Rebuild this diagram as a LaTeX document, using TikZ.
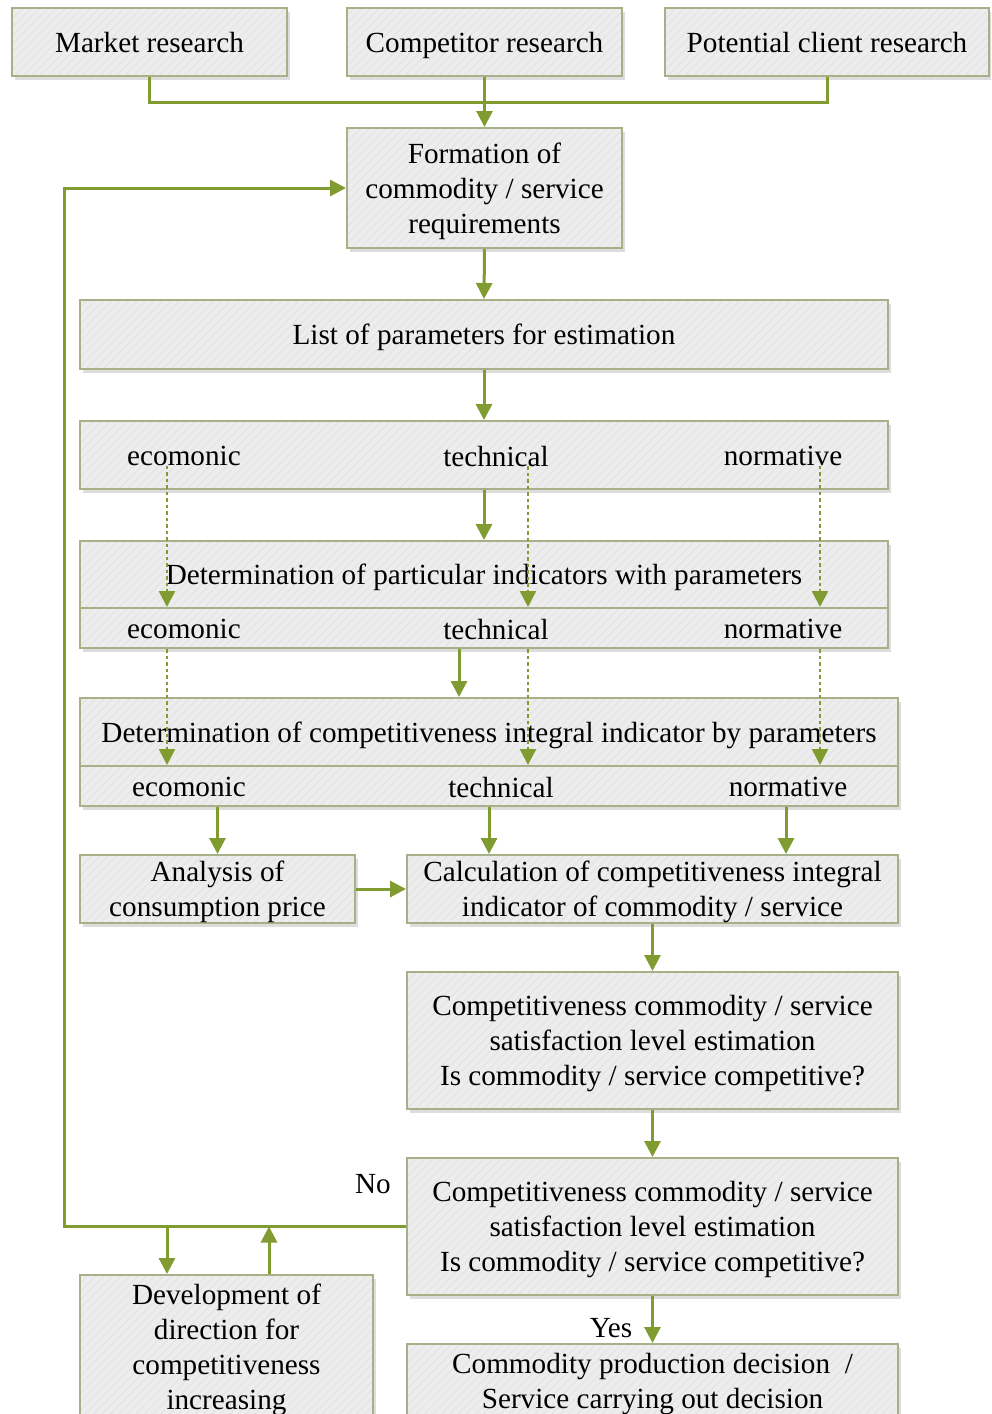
\documentclass[tikz,border=0pt]{standalone}
\usepackage{fontspec}
\setmainfont{Liberation Serif}
\usetikzlibrary{arrows.meta,shadows,patterns.meta,calc}
\definecolor{arrg}{RGB}{128,155,48}
\definecolor{boxb}{RGB}{168,176,138}
\definecolor{boxf}{RGB}{237,237,237}
\definecolor{stripe}{RGB}{228,228,228}
\tikzset{
 box/.style={draw=boxb, line width=2pt, inner sep=2pt, align=center, text depth=0pt,
   drop shadow={shadow xshift=3pt, shadow yshift=-4pt, opacity=0.22, fill=black!60},
   preaction={fill=boxf},
   pattern={Lines[angle=45,distance=6pt,line width=1pt]}, pattern color=stripe},
 arr/.style={draw=arrg, line width=3pt, -{Triangle[width=16pt,length=16pt]}},
 ln/.style={draw=arrg, line width=3pt},
 dotarr/.style={draw=arrg, line width=2.5pt, dash pattern=on 3.5pt off 3pt, -{Triangle[width=16pt,length=16pt]}},
 lbl/.style={inner sep=0pt, text depth=0pt},
}
\begin{document}
\begin{tikzpicture}[x=1pt,y=-1pt,font=\fontsize{29.2}{35}\selectfont]
\useasboundingbox (0,0) rectangle (991,1414);
\clip (0,0) rectangle (991,1414);
% top row
\node[box, minimum width=275, minimum height=68] (mr) at (149.5,42) {Market research};
\node[box, minimum width=275, minimum height=68] (cr) at (484.5,42) {Competitor research};
\node[box, minimum width=324, minimum height=68] (pcr) at (827,42) {Potential client research};
\node[box, minimum width=275, minimum height=120] (form) at (484.5,188) {Formation of\\commodity / service\\requirements};
\node[box, minimum width=808, minimum height=69] (list) at (484,334.5) {List of parameters for estimation};
% category row
\node[box, minimum width=808, minimum height=68] (cat) at (484,455) {};
\node[lbl] (e0) at (184,456) {ecomonic};
\node[lbl] (t0) at (496,456) {technical};
\node[lbl] (n0) at (783,456) {normative};
% determination 1
\node[box, minimum width=808, minimum height=67] (d1t) at (484,574.5) {Determination of particular indicators with parameters};
\node[box, minimum width=808, minimum height=40] (d1b) at (484,628) {};
\node[lbl] (e1) at (184,629) {ecomonic};
\node[lbl] (t1) at (496,629) {technical};
\node[lbl] (n1) at (783,629) {normative};
% determination 2
\node[box, minimum width=818, minimum height=68] (d2t) at (489,732) {Determination of competitiveness integral indicator by parameters};
\node[box, minimum width=818, minimum height=40] (d2b) at (489,786) {};
\node[lbl] (e2) at (189,787) {ecomonic};
\node[lbl] (t2) at (501,787) {technical};
\node[lbl] (n2) at (788,787) {normative};
% lower boxes
\node[box, minimum width=275, minimum height=68] (ap) at (217.5,889) {Analysis of\\consumption price};
\node[box, minimum width=491, minimum height=68] (calc) at (652.5,889) {Calculation of competitiveness integral\\indicator of commodity / service};
\node[box, minimum width=491, minimum height=137] (ce1) at (652.5,1040.5) {Competitiveness commodity / service\\satisfaction level estimation\\Is commodity / service competitive?};
\node[box, minimum width=491, minimum height=137] (ce2) at (652.5,1226.5) {Competitiveness commodity / service\\satisfaction level estimation\\Is commodity / service competitive?};
\node[box, minimum width=293, minimum height=144] (dev) at (226.5,1347) {Development of\\direction for\\competitiveness\\increasing};
\node[box, minimum width=491, minimum height=74] (cpd) at (652.5,1381) {Commodity production decision\ \ /\\Service carrying out decision};
\node[lbl] (no) at (373,1184) {No};
\node[lbl] (yes) at (611,1328) {Yes};
% helper coordinates
\coordinate (jn) at (484.5,102);
\coordinate (xb) at (459,0);
\coordinate (c1) at (167,0);
\coordinate (c2) at (528,0);
\coordinate (c3) at (820,0);
\coordinate (x2) at (489,0);
\coordinate (x3) at (786,0);
\coordinate (fb) at (64,0);
\coordinate (dl) at (167,0);
\coordinate (dr) at (269,0);
% connectors
\draw[ln] (mr.south) |- (jn) -| (pcr.south);
\draw[arr] (cr.south) -- (form.north);
\draw[arr] (form.south) -- (list.north);
\draw[arr] (list.south) -- (cat.north);
\draw[arr] (cat.south) -- (d1t.north);
\draw[arr] (d1b.south -| xb) -- (d2t.north -| xb);
\draw[dotarr] (e0.south -| c1) -- (d1b.north -| c1);
\draw[dotarr] (t0.south -| c2) -- (d1b.north -| c2);
\draw[dotarr] (n0.south -| c3) -- (d1b.north -| c3);
\draw[dotarr] (d1b.south -| c1) -- (d2b.north -| c1);
\draw[dotarr] (d1b.south -| c2) -- (d2b.north -| c2);
\draw[dotarr] (d1b.south -| c3) -- (d2b.north -| c3);
\draw[arr] (d2b.south -| ap) -- (ap.north);
\draw[arr] (d2b.south -| x2) -- (calc.north -| x2);
\draw[arr] (d2b.south -| x3) -- (calc.north -| x3);
\draw[arr] (ap.east) -- (calc.west);
\draw[arr] (calc.south) -- (ce1.north);
\draw[arr] (ce1.south) -- (ce2.north);
\draw[arr] (ce2.south) -- (cpd.north);
\draw[arr] (ce2.west) -| (fb |- form.west) -- (form.west);
\draw[arr] (ce2.west -| dl) -- (dev.north -| dl);
\draw[arr] (dev.north -| dr) -- (ce2.west -| dr);
\end{tikzpicture}
\end{document}
